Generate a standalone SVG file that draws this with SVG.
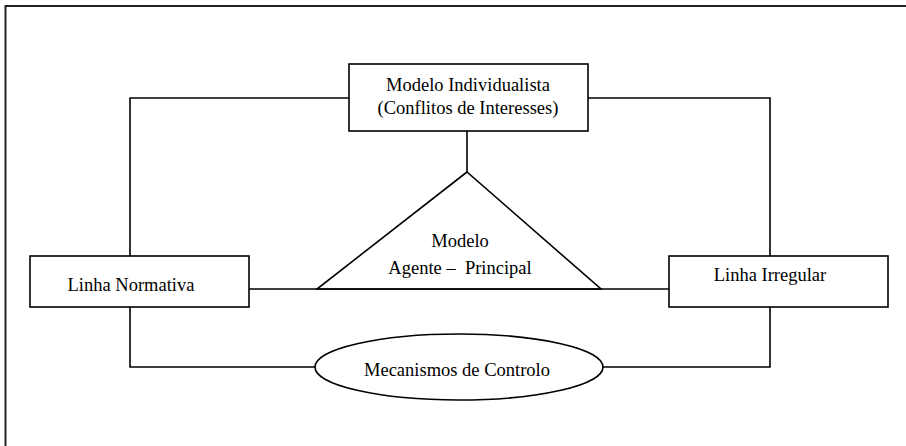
<svg xmlns="http://www.w3.org/2000/svg" width="906" height="446" viewBox="0 0 906 446">
<style>
.s{fill:none;stroke:#000;stroke-width:1.6}
.b{fill:#fff;stroke:#000;stroke-width:1.6}
text{font-family:"Liberation Serif","Times New Roman",serif;font-size:18.5px;fill:#000;text-anchor:middle}
</style>
<rect width="906" height="446" fill="#fff"/>
<path d="M5.5,446 V6 H906" fill="none" stroke="#222" stroke-width="2"/>
<g id="connectors" class="s">
<polyline points="130,256 130,98 349,98"/>
<polyline points="588,98 770,98 770,256"/>
<line x1="467" y1="131" x2="467" y2="172"/>
<line x1="249" y1="289" x2="669" y2="289"/>
<polyline points="130,307 130,367 315,367"/>
<polyline points="603,367 770,367 770,307"/>
</g>
<g id="individualista">
<rect class="b" x="349" y="64" width="239" height="67"/>
<text x="468" y="91">Modelo Individualista</text>
<text x="468" y="114">(Conflitos de Interesses)</text>
</g>
<g id="agente-principal">
<polygon class="s" points="467,172 317,289 601,289"/>
<text x="460" y="247">Modelo</text>
<text x="460" y="274" xml:space="preserve">Agente –  Principal</text>
</g>
<g id="normativa">
<rect class="b" x="30" y="256" width="219" height="51"/>
<text x="131" y="291">Linha Normativa</text>
</g>
<g id="irregular">
<rect class="b" x="669" y="256" width="219" height="51"/>
<text x="770" y="281">Linha Irregular</text>
</g>
<g id="controlo">
<ellipse class="b" cx="459" cy="367" rx="144" ry="33"/>
<text x="457" y="376">Mecanismos de Controlo</text>
</g>
</svg>
